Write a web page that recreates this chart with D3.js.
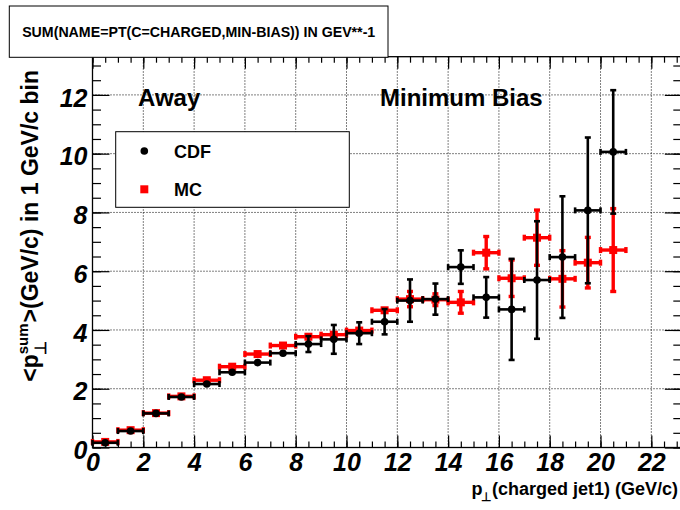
<!DOCTYPE html>
<html>
<head>
<meta charset="utf-8">
<script src="https://cdn.jsdelivr.net/npm/d3@7"></script>
<style>
  body { margin: 0; background: #fff; }
</style>
</head>
<body>
<div id="graph"></div>
<script>
// global variables
var chart_width = 680;
var chart_height = 510;
var font = "'Liberation Sans', Arial, Helvetica, sans-serif";

// data: 1 GeV/c bins of the leading charged jet pT
var binLow = [0, 1, 2, 3, 4, 5, 6, 7, 8, 9, 10, 11, 12, 13, 14, 15, 16, 17, 18, 19, 20];
var cdfValues = [0.16, 0.56, 1.16, 1.72, 2.16, 2.56, 2.89, 3.21, 3.52, 3.68, 3.89, 4.28, 5.00, 5.05, 6.14, 5.11, 4.70, 5.70, 6.48, 8.07, 10.06];
var cdfErrors = [0.03, 0.03, 0.04, 0.05, 0.06, 0.16, 0.16, 0.15, 0.27, 0.49, 0.37, 0.43, 0.72, 0.53, 0.57, 0.69, 1.72, 2.00, 2.07, 2.48, 2.10];
var mcValues = [0.19, 0.59, 1.17, 1.74, 2.29, 2.75, 3.18, 3.47, 3.77, 3.84, 3.98, 4.67, 5.05, 5.03, 4.94, 6.63, 5.76, 7.14, 5.74, 6.29, 6.72];
var mcErrors = [0.02, 0.02, 0.03, 0.04, 0.05, 0.06, 0.07, 0.08, 0.09, 0.10, 0.12, 0.16, 0.26, 0.20, 0.37, 0.55, 0.62, 0.94, 0.96, 0.86, 1.41];

var xTickLabels = [0, 2, 4, 6, 8, 10, 12, 14, 16, 18, 20, 22];
var yTickLabels = [0, 2, 4, 6, 8, 10, 12];
var titleText = 'SUM(NAME=PT(C=CHARGED,MIN-BIAS)) IN GEV**-1';
var legendNames = ['CDF', 'MC'];

// frame of the plot
var frame = { left: 92.5, right: 681.8, top: 56.7, bottom: 447.5 };

var x_scale = d3.scaleLinear().domain([0, 23.2]).range([frame.left, frame.right]);
var y_scale = d3.scaleLinear().domain([0, 13.3]).range([frame.bottom, frame.top]);

var svg = d3.select('#graph')
  .append('svg')
  .attr('width', chart_width)
  .attr('height', chart_height)
  .style('font-family', font);

svg.append('rect')
  .attr('width', chart_width)
  .attr('height', chart_height)
  .attr('fill', '#fff');

// dotted grid at the major ticks
var grid = svg.append('g').attr('stroke', '#000').attr('stroke-width', 1).attr('stroke-dasharray', '1,2');
grid.selectAll('.gx')
  .data(xTickLabels.slice(1))
  .enter()
  .append('line')
  .attr('x1', function(d) { return x_scale(d); })
  .attr('x2', function(d) { return x_scale(d); })
  .attr('y1', frame.bottom)
  .attr('y2', frame.top);
grid.selectAll('.gy')
  .data(yTickLabels.slice(1))
  .enter()
  .append('line')
  .attr('y1', function(d) { return y_scale(d); })
  .attr('y2', function(d) { return y_scale(d); })
  .attr('x1', frame.left)
  .attr('x2', frame.right);

// frame
svg.append('rect')
  .attr('x', frame.left)
  .attr('y', frame.top)
  .attr('width', frame.right - frame.left)
  .attr('height', frame.bottom - frame.top)
  .attr('fill', 'none')
  .attr('stroke', '#000')
  .attr('stroke-width', 1.3);

// axes - ticks point into the frame
var xMinor = d3.range(0, 23.01, 0.5);
var yMinor = d3.range(0, 13.3, 0.5);

var addAxis = function(axis, tx, ty) {
  var g = svg.append('g')
    .attr('transform', 'translate(' + tx + ',' + ty + ')')
    .call(axis);
  g.select('.domain').remove();
  g.selectAll('line').attr('stroke-width', 1.2);
  return g;
};

var xAxisBottom = addAxis(d3.axisBottom(x_scale).tickValues(xTickLabels).tickSize(-12).tickSizeOuter(0).tickPadding(6).tickFormat(d3.format('d')), 0, frame.bottom);
addAxis(d3.axisBottom(x_scale).tickValues(xMinor).tickSize(-6).tickSizeOuter(0).tickFormat(''), 0, frame.bottom);
addAxis(d3.axisTop(x_scale).tickValues(xTickLabels).tickSize(-12).tickSizeOuter(0).tickFormat(''), 0, frame.top);
addAxis(d3.axisTop(x_scale).tickValues(xMinor).tickSize(-6).tickSizeOuter(0).tickFormat(''), 0, frame.top);

var yAxisLeft = addAxis(d3.axisLeft(y_scale).tickValues(yTickLabels).tickSize(-17).tickSizeOuter(0).tickPadding(5).tickFormat(d3.format('d')), frame.left, 0);
addAxis(d3.axisLeft(y_scale).tickValues(yMinor).tickSize(-8.5).tickSizeOuter(0).tickFormat(''), frame.left, 0);
addAxis(d3.axisRight(y_scale).tickValues(yTickLabels).tickSize(-17).tickSizeOuter(0).tickFormat(''), frame.right, 0);
addAxis(d3.axisRight(y_scale).tickValues(yMinor).tickSize(-8.5).tickSizeOuter(0).tickFormat(''), frame.right, 0);

[xAxisBottom, yAxisLeft].forEach(function(g) {
  g.attr('font-family', font).attr('font-size', 25);
  g.selectAll('text')
    .attr('font-weight', 'bold')
    .attr('font-style', 'italic')
    .attr('fill', '#000');
});
yAxisLeft.selectAll('text').attr('dy', '0.45em');

// data: horizontal bar = bin width, vertical bar = error
var drawSeries = function(values, errors, color, lineWidth, marker) {
  var g = svg.append('g').attr('stroke', color).attr('stroke-width', lineWidth);
  var cap = 3;
  var markerR = 4;
  values.forEach(function(v, i) {
    var x0 = x_scale(binLow[i]);
    var x1 = x_scale(binLow[i] + 1);
    var cx = x_scale(binLow[i] + 0.5);
    var cy = y_scale(v);
    g.append('line').attr('x1', x0).attr('x2', x1).attr('y1', cy).attr('y2', cy);
    g.append('line').attr('x1', x0).attr('x2', x0).attr('y1', cy - cap).attr('y2', cy + cap);
    g.append('line').attr('x1', x1).attr('x2', x1).attr('y1', cy - cap).attr('y2', cy + cap);
    var yHi = y_scale(v + errors[i]);
    var yLo = y_scale(v - errors[i]);
    if (yLo - cy > markerR + 1) {
      g.append('line').attr('x1', cx).attr('x2', cx).attr('y1', yHi).attr('y2', yLo);
      g.append('line').attr('x1', cx - cap).attr('x2', cx + cap).attr('y1', yHi).attr('y2', yHi);
      g.append('line').attr('x1', cx - cap).attr('x2', cx + cap).attr('y1', yLo).attr('y2', yLo);
    }
  });
  var m = svg.append('g').attr('fill', color);
  if (marker === 'square') {
    m.selectAll('rect')
      .data(values)
      .enter()
      .append('rect')
      .attr('x', function(d, i) { return x_scale(binLow[i] + 0.5) - 4; })
      .attr('y', function(d) { return y_scale(d) - 4; })
      .attr('width', 8)
      .attr('height', 8);
  } else {
    m.selectAll('circle')
      .data(values)
      .enter()
      .append('circle')
      .attr('cx', function(d, i) { return x_scale(binLow[i] + 0.5); })
      .attr('cy', function(d) { return y_scale(d); })
      .attr('r', 3.8);
  }
};

drawSeries(mcValues, mcErrors, '#ff0000', 3.4, 'square');
drawSeries(cdfValues, cdfErrors, '#000', 2.6, 'circle');

// labels inside the frame
svg.append('text').attr('x', 138).attr('y', 106).attr('font-size', 24).attr('font-weight', 'bold').text('Away');
svg.append('text').attr('x', 380).attr('y', 106).attr('font-size', 24).attr('font-weight', 'bold').text('Minimum Bias');

// legend
svg.append('rect')
  .attr('x', 115.7).attr('y', 131.7)
  .attr('width', 233.6).attr('height', 75.6)
  .attr('fill', '#fff').attr('stroke', '#000').attr('stroke-width', 1);
svg.append('circle').attr('cx', 144.3).attr('cy', 151).attr('r', 3.8).attr('fill', '#000');
svg.append('rect').attr('x', 140.3).attr('y', 185.3).attr('width', 8).attr('height', 8).attr('fill', '#ff0000');
svg.selectAll('.legend')
  .data(legendNames)
  .enter()
  .append('text')
  .attr('class', 'legend')
  .attr('x', 174)
  .attr('y', function(d, i) { return 157.5 + i * 38.3; })
  .attr('font-size', 18)
  .attr('font-weight', 'bold')
  .text(function(d) { return d; });

// title box
svg.append('rect')
  .attr('x', 9.3).attr('y', 6)
  .attr('width', 378.7).attr('height', 51.3)
  .attr('fill', '#fff').attr('stroke', '#000').attr('stroke-width', 1);
svg.append('text')
  .attr('x', 198.7).attr('y', 36.7)
  .attr('text-anchor', 'middle')
  .attr('font-size', 14.2)
  .attr('font-weight', 'bold')
  .text(titleText);

// width of a string, used to stack the sub/superscripts
var measure = function(str, size) {
  var t = svg.append('text').attr('font-size', size).attr('font-weight', 'bold').text(str);
  var w = t.node().getComputedTextLength();
  t.remove();
  return w;
};

// x title: p with a perp subscript, right aligned at the frame edge
var xt = svg.append('text')
  .attr('x', 678).attr('y', 495)
  .attr('text-anchor', 'end')
  .attr('font-size', 18)
  .attr('font-weight', 'bold');
xt.append('tspan').text('p');
xt.append('tspan').attr('font-size', 12).attr('dx', -1).attr('dy', 6).text('\u22A5');
xt.append('tspan').attr('dx', 0.5).attr('dy', -6).text('(charged jet1) (GeV/c)');

// y title, rotated, right aligned near the top
var sumW = measure('sum', 15);
var perpW2 = measure('\u22A5', 16);
var yt = svg.append('text')
  .attr('transform', 'translate(37.5,0) rotate(-90)')
  .attr('x', -70).attr('y', 0)
  .attr('text-anchor', 'end')
  .attr('font-size', 23)
  .attr('font-weight', 'bold');
yt.append('tspan').text('<p');
yt.append('tspan').attr('font-size', 15).attr('dy', -10).text('sum');
yt.append('tspan').attr('font-size', 16).attr('dx', -sumW - 1).attr('dy', 18).text('\u22A5');
yt.append('tspan').attr('dx', sumW - perpW2 + 2).attr('dy', -8).text('>(GeV/c) in 1 GeV/c bin');
</script>
</body>
</html>
